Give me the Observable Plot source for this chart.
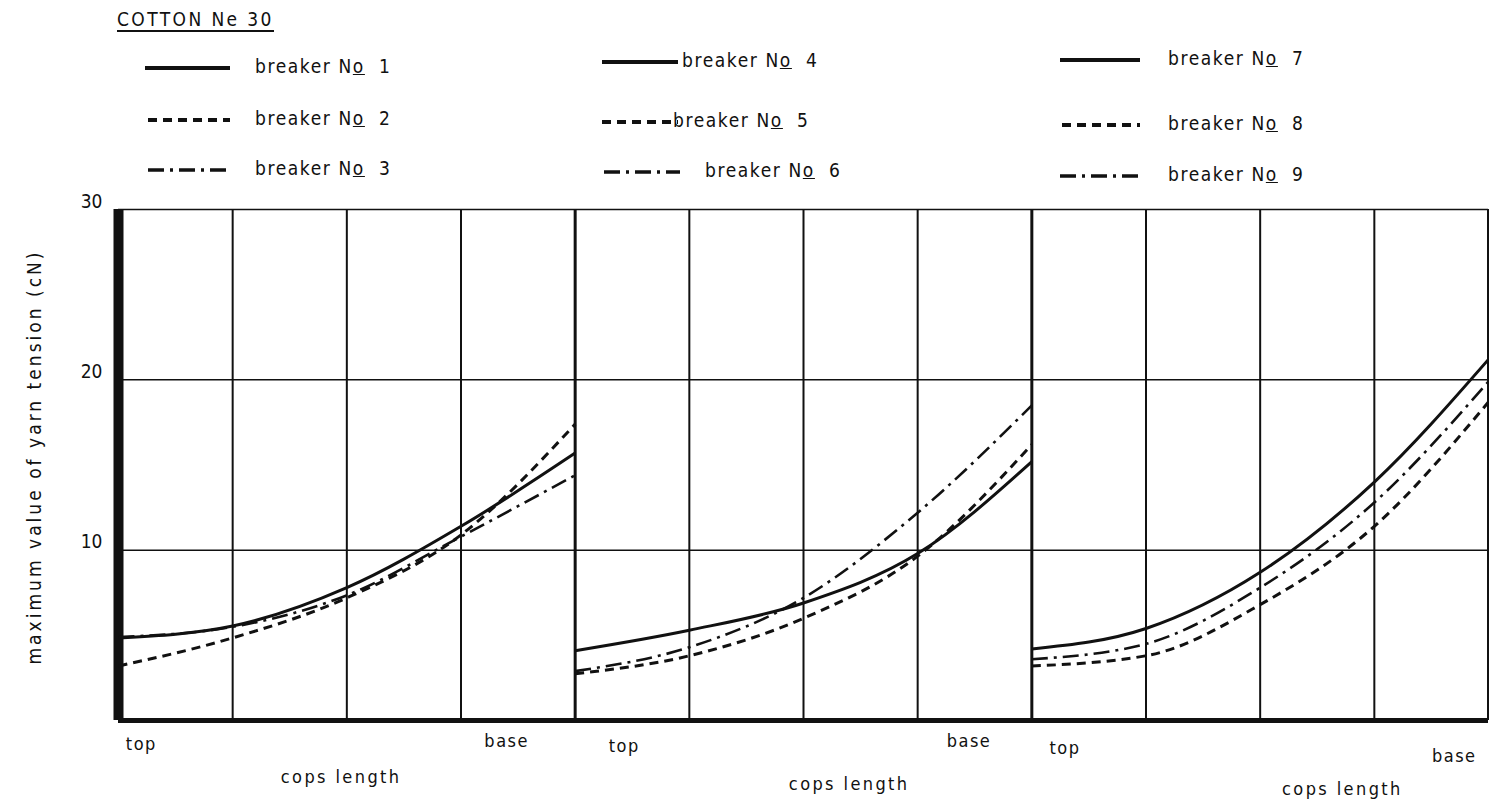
<!DOCTYPE html>
<html><head><meta charset="utf-8">
<script src="https://cdn.jsdelivr.net/npm/d3@7"></script>
<script src="https://cdn.jsdelivr.net/npm/@observablehq/plot@0.6"></script>
<style>
body{margin:0;background:#fff;font-family:"DejaVu Sans Condensed",sans-serif;color:#111;}
#wrap{position:relative;width:1489px;height:809px;overflow:hidden;}
#head{position:relative;height:180px;}
.t{position:absolute;font-size:19px;letter-spacing:1.6px;white-space:nowrap;transform:translateY(-50%);}
.s{position:absolute;transform:translateY(-50%);}
#title{position:absolute;left:117px;top:8px;font-size:19px;letter-spacing:2.4px;border-bottom:2px solid #111;padding-bottom:0px;line-height:22px;}
</style></head>
<body><div id="wrap"><div id="head"><div id="title">COTTON Ne 30</div></div><div id="chart"></div></div>
<script>
// ---- data ----
const copsPos = [0, 1, 2, 3, 4];            // top ... base (grid columns)
const breakers = [1, 2, 3, 4, 5, 6, 7, 8, 9];
const breaker1 = [4.85, 5.55, 7.8, 11.4, 15.7];
const breaker2 = [3.2, 4.85, 7.2, 10.9, 17.4];
const breaker3 = [4.9, 5.5, 7.35, 10.8, 14.4];
const breaker4 = [4.1, 5.3, 6.9, 9.8, 15.2];
const breaker5 = [2.75, 3.8, 6.0, 9.65, 16.2];
const breaker6 = [2.9, 4.3, 7.2, 12.2, 18.5];
const breaker7 = [4.2, 5.4, 8.7, 14.0, 21.2];
const breaker8 = [3.2, 3.8, 6.8, 11.4, 18.7];
const breaker9 = [3.6, 4.5, 7.8, 12.8, 19.9];
const yTicks = [10, 20, 30];
const panels = [0, 1, 2];
const legendLabels = breakers.map(b => "breaker No " + b);
const yLabel = "maximum value of yarn tension (cN)";

// ---- layout / styles ----
const series = [breaker1, breaker2, breaker3, breaker4, breaker5, breaker6, breaker7, breaker8, breaker9];
const styles = [
  {dash: null, w: 3},
  {dash: "9,6", w: 3},
  {dash: "16,6,3,6", w: 2.6}
];
const unitsPerPanel = 4;
const rows = [];
breakers.forEach((b, i) => {
  const panel = Math.floor(i / 3), style = i % 3;
  copsPos.forEach((p, j) => rows.push({breaker: b, panel, style, x: panel * unitsPerPanel + p, y: series[i][j]}));
});

// legend (HTML, above the SVG)
const head = document.getElementById("head");
const legPos = [
  {sx:145, sw:85, tx:255, y:68},{sx:148, sw:82, tx:255, y:120},{sx:148, sw:82, tx:255, y:170},
  {sx:602, sw:76, tx:682, y:62},{sx:602, sw:76, tx:673, y:122},{sx:604, sw:76, tx:705, y:172},
  {sx:1060, sw:80, tx:1168, y:60},{sx:1062, sw:78, tx:1168, y:125},{sx:1060, sw:80, tx:1168, y:176}
];
breakers.forEach((b, i) => {
  const st = styles[i % 3], L = legPos[i];
  const svgNS = "http://www.w3.org/2000/svg";
  const s = document.createElementNS(svgNS, "svg");
  s.setAttribute("class", "s"); s.setAttribute("width", L.sw); s.setAttribute("height", 8);
  s.style.left = L.sx + "px"; s.style.top = L.y + "px";
  const ln = document.createElementNS(svgNS, "line");
  ln.setAttribute("x1", 0); ln.setAttribute("x2", L.sw); ln.setAttribute("y1", 4); ln.setAttribute("y2", 4);
  ln.setAttribute("stroke", "#111"); ln.setAttribute("stroke-width", st.w + 0.8);
  if (st.dash) ln.setAttribute("stroke-dasharray", st.dash);
  s.appendChild(ln); head.appendChild(s);
  const t = document.createElement("div");
  t.className = "t"; t.style.left = L.tx + "px"; t.style.top = (L.y - 2) + "px";
  const parts = legendLabels[i].split("No");
  t.innerHTML = parts[0] + "N<u>o</u>&nbsp;&nbsp;" + parts[1].trim();
  head.appendChild(t);
});

// axis text labels per panel (positions in panel units)
const topLab = [{u:0.2, dy:29}, {u:0.43, dy:31}, {u:0.29, dy:33}];
const baseLab = [{u:3.4, dy:26}, {u:3.45, dy:26}, {u:3.7, dy:41}];
const copsLab = [{u:1.95, dy:62}, {u:2.4, dy:69}, {u:2.72, dy:74}];
const labRows = [];
panels.forEach(p => {
  labRows.push({x: p * unitsPerPanel + topLab[p].u, dy: topLab[p].dy, text: "top"});
  labRows.push({x: p * unitsPerPanel + baseLab[p].u, dy: baseLab[p].dy, text: "base"});
  labRows.push({x: p * unitsPerPanel + copsLab[p].u, dy: copsLab[p].dy, text: "cops length"});
});

const gridX = d3.range(0, panels.length * unitsPerPanel + 1);
const fontStyle = {fontFamily: "'DejaVu Sans Condensed', sans-serif", fontSize: "18px", color: "#111", background: "#fff"};

const lineMarks = styles.map((st, k) => Plot.line(rows.filter(d => d.style === k), {
  x: "x", y: "y", z: "breaker", curve: "monotone-x", stroke: "#111",
  strokeWidth: st.w, strokeDasharray: st.dash || undefined, strokeLinecap: "butt"
}));

const chart = Plot.plot({
  width: 1489, height: 629,
  marginLeft: 118, marginRight: 1, marginTop: 29, marginBottom: 89,
  style: fontStyle,
  x: {domain: [0, panels.length * unitsPerPanel], axis: null},
  y: {domain: [0, 30], axis: null},
  marks: [
    Plot.ruleY(yTicks, {stroke: "#111", strokeWidth: 1.5}),
    Plot.ruleX(gridX, {stroke: "#111", strokeWidth: d => d === 0 ? 10 : (d % unitsPerPanel === 0 ? 3 : 2)}),
    Plot.ruleY([0], {stroke: "#111", strokeWidth: 5}),
    ...lineMarks,
    Plot.axisY({ticks: yTicks, tickSize: 0, tickPadding: 16, dy: -8, fontSize: 19, label: null}),
    Plot.text([yLabel], {frameAnchor: "left", textAnchor: "middle", rotate: -90, dx: -84, dy: -8, fontSize: 19, fill: "#111"}),
    ...labRows.map(l => Plot.text([l], {x: "x", frameAnchor: "bottom", dy: l.dy, text: "text", fontSize: 18, fill: "#111"}))
  ]
});
// letter spacing of the typewritten-style labels
chart.querySelectorAll("text").forEach(t => {
  const c = t.textContent;
  if (c === yLabel) t.setAttribute("letter-spacing", "3");
  else if (c === "cops length") t.setAttribute("letter-spacing", "2.4");
  else if (c === "base" || c === "top") t.setAttribute("letter-spacing", "1.5");
});
document.getElementById("chart").appendChild(chart);
</script></body></html>
